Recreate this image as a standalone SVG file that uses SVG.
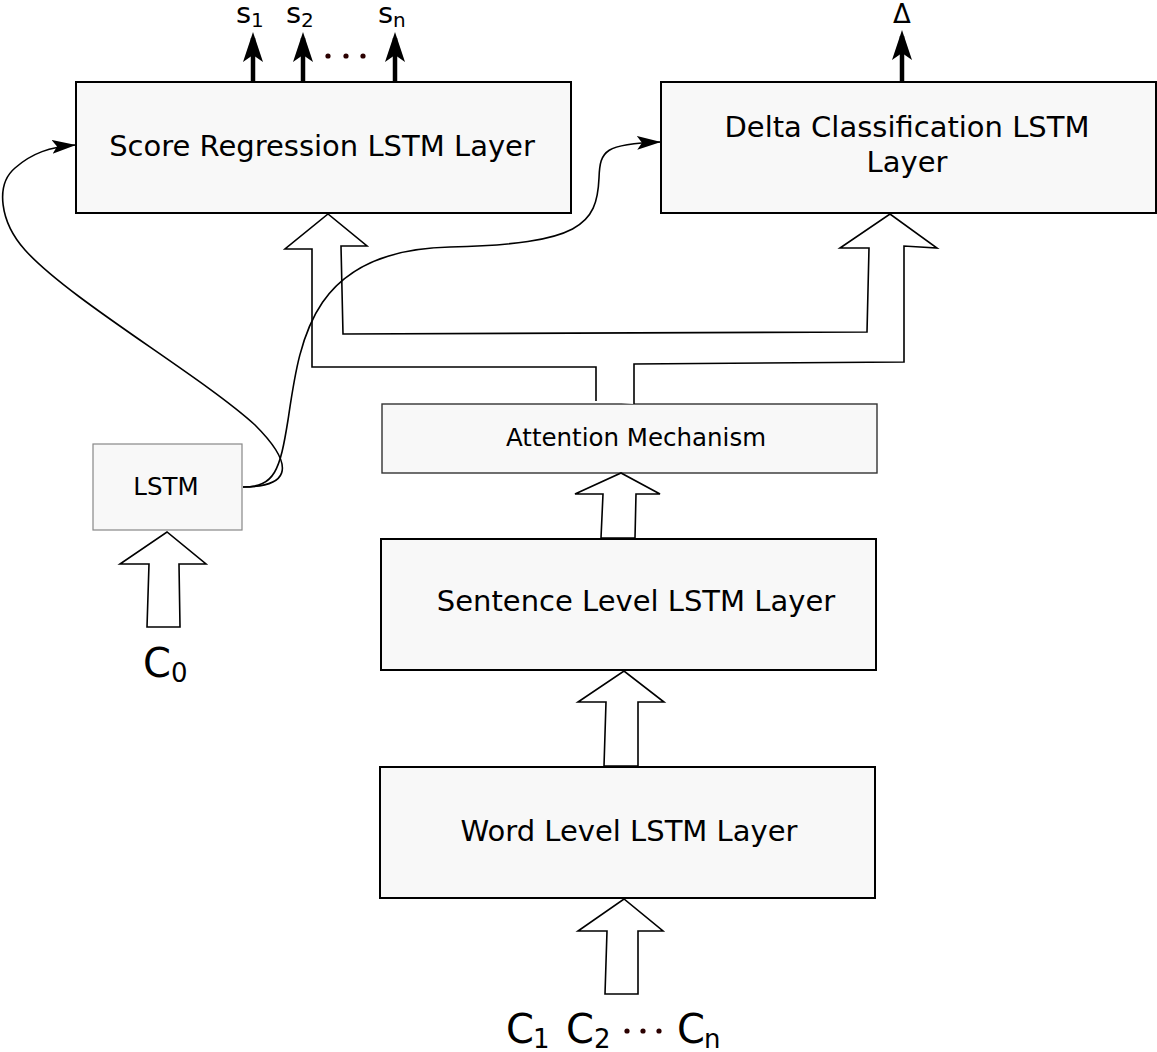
<svg xmlns="http://www.w3.org/2000/svg" width="1157" height="1052" viewBox="0 0 1157 1052">
<style>
.box{fill:#f8f8f8;stroke:#000;stroke-width:2}
.t{font-family:"DejaVu Sans",sans-serif;fill:#000}
.blk{fill:#fff;stroke:#000;stroke-width:1.6;stroke-linejoin:miter}
.up{stroke:#000;stroke-width:4.5;fill:none;marker-end:url(#big)}
.curve{fill:none;stroke:#000;stroke-width:1.6}
.dot{fill:#2b0000}
</style>
<defs>
<marker id="big" markerUnits="userSpaceOnUse" viewBox="0 0 30 20" refX="24" refY="10" markerWidth="30" markerHeight="20" orient="auto">
<path d="M30,10 L0,0 L7,10 L0,20 Z" fill="#000"/>
</marker>
<marker id="small" markerUnits="userSpaceOnUse" viewBox="0 0 24 14" refX="23" refY="7" markerWidth="24" markerHeight="14" orient="auto">
<path d="M24,7 L0,0 L5,7 L0,14 Z" fill="#000"/>
</marker>
</defs>

<g id="score">
<rect class="box" x="76" y="82" width="495" height="131"/>
<text class="t" x="322" y="156" font-size="29" text-anchor="middle">Score Regression LSTM Layer</text>
</g>
<g id="delta">
<rect class="box" x="661" y="82" width="495" height="131"/>
<text class="t" x="907" y="137" font-size="29" text-anchor="middle">Delta Classification LSTM</text>
<text class="t" x="907" y="172" font-size="29" text-anchor="middle">Layer</text>
</g>
<g id="attention">
<rect x="382" y="404" width="495" height="69" fill="#f8f8f8" stroke="#333" stroke-width="1.4"/>
<text class="t" x="636" y="446" font-size="24.5" text-anchor="middle">Attention Mechanism</text>
</g>
<g id="lstm">
<rect x="93" y="444" width="149" height="86" fill="#f8f8f8" stroke="#888" stroke-width="1.2"/>
<text class="t" x="166" y="495" font-size="24.5" text-anchor="middle">LSTM</text>
</g>
<g id="sentence">
<rect class="box" x="381" y="539" width="495" height="131"/>
<text class="t" x="636" y="611" font-size="29" text-anchor="middle">Sentence Level LSTM Layer</text>
</g>
<g id="word">
<rect class="box" x="380" y="767" width="495" height="131"/>
<text class="t" x="629" y="841" font-size="29" text-anchor="middle">Word Level LSTM Layer</text>
</g>

<g id="connectors">
<path class="blk" d="M601,538 L603,494 L575,494 L621,473 L660,494 L636,494 L635,538 Z"/>
<path class="blk" d="M604,766 L606,702 L578,702 L624,671 L664,702 L638,702 L638,766 Z"/>
<path class="blk" d="M605,994 L607,931 L578,931 L624,899 L663,931 L638,931 L638,994 Z"/>
<path class="blk" d="M147,627 L149,564 L120,564 L167,532 L206,564 L179,564 L180,627 Z"/>
<path fill="#fff" stroke="none" d="M596,401 L596,367 L312,367 L312,249 L285,249 L328,214 L367,246 L341,246 L343,334 L867,332 L869,248 L840,248 L890,214 L937,248 L904,246 L904,362 L634,364 L634,404 Z"/>
<path fill="none" stroke="#000" stroke-width="1.6" d="M596,401 L596,367 L312,367 L312,249 L285,249 L328,214 L367,246 L341,246 L343,334 L867,332 L869,248 L840,248 L890,214 L937,248 L904,246 L904,362 L634,364 L634,404"/>
<path class="curve" marker-end="url(#small)" d="M243,487 C285,487 300,470 255,425 C200,375 70,300 25,250 C0,222 -5,185 15,168 C32,153 50,147 75,145"/>
<path class="curve" marker-end="url(#small)" d="M243,487 C275,487 280,470 288,420 C300,340 310,250 450,247 C580,244 597,225 599,178 C600,150 605,144 660,142"/>
<line class="up" x1="253" y1="82" x2="253" y2="38"/>
<line class="up" x1="303" y1="82" x2="303" y2="38"/>
<line class="up" x1="395" y1="82" x2="395" y2="38"/>
<line class="up" x1="902" y1="82" x2="902" y2="36"/>
<circle class="dot" cx="328" cy="56" r="2.6"/>
<circle class="dot" cx="346" cy="56" r="2.6"/>
<circle class="dot" cx="363" cy="56" r="2.6"/>
</g>

<g id="labels">
<text class="t" x="236" y="23" font-size="29">s<tspan x="251" y="27" font-size="20">1</tspan></text>
<text class="t" x="286" y="23" font-size="29">s<tspan x="301" y="27" font-size="20">2</tspan></text>
<text class="t" x="378" y="23" font-size="29">s<tspan x="393" y="27" font-size="20">n</tspan></text>
<text class="t" x="902" y="23" font-size="26" text-anchor="middle">Δ</text>
<text class="t" x="143" y="677" font-size="40">C<tspan x="171" y="682" font-size="26">0</tspan></text>
<text class="t" x="506" y="1043" font-size="40">C<tspan x="533" y="1048" font-size="26">1</tspan></text>
<text class="t" x="566" y="1043" font-size="40">C<tspan x="594" y="1048" font-size="26">2</tspan></text>
<text class="t" x="677" y="1043" font-size="40">C<tspan x="704" y="1048" font-size="26">n</tspan></text>
<circle class="dot" cx="627" cy="1031" r="2.6"/>
<circle class="dot" cx="643" cy="1031" r="2.6"/>
<circle class="dot" cx="659" cy="1031" r="2.6"/>
</g>
</svg>
